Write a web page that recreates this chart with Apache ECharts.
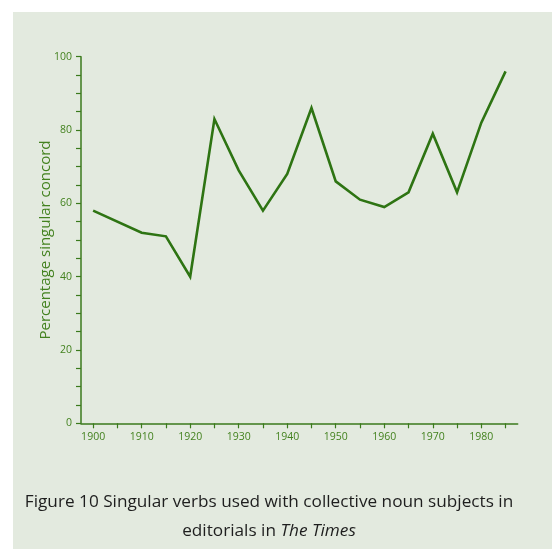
<!DOCTYPE html>
<html>
<head>
<meta charset="utf-8">
<script src="https://cdn.jsdelivr.net/npm/echarts@6/dist/echarts.min.js"></script>
<style>html,body{margin:0;padding:0;background:#fff}#c{width:552px;height:549px}</style>
</head>
<body>
<div id="c"></div>
<script>
var years = [1900, 1910, 1915, 1920, 1925, 1930, 1935, 1940, 1945, 1950, 1955, 1960, 1965, 1970, 1975, 1980, 1985];
var values = [58, 52, 51, 40, 83, 69, 58, 68, 86, 66, 61, 59, 63, 79, 63, 82, 96];
var xTickValues = [1900, 1905, 1910, 1915, 1920, 1925, 1930, 1935, 1940, 1945, 1950, 1955, 1960, 1965, 1970, 1975, 1980, 1985];
var xLabelValues = [1900, 1910, 1920, 1930, 1940, 1950, 1960, 1970, 1980];
var yTickValues = [0, 5, 10, 15, 20, 25, 30, 35, 40, 45, 50, 55, 60, 65, 70, 75, 80, 85, 90, 95, 100];
var yLabelValues = [0, 20, 40, 60, 80, 100];
var yAxisName = 'Percentage singular concord';

var green = '#3b7a1c';
var textGreen = '#43821f';
var font = 'Open Sans';
var chart = echarts.init(document.getElementById('c'), null, {renderer: 'canvas'});
chart.setOption({
  backgroundColor: '#ffffff',
  animation: false,
  graphic: [{
    type: 'rect', z: -10, silent: true,
    shape: {x: 13, y: 12, width: 539, height: 537},
    style: {fill: '#e3eadf'}
  }],
  title: {
    left: 264, top: 483, textAlign: 'center',
    text: '{a|Figure 10 Singular verbs used with collective noun subjects in}\n{a|editorials in }{i|The Times}',
    textStyle: {
      fontWeight: 'normal',
      rich: {
        a: {fontFamily: font, fontSize: 17.2, fontWeight: 'normal', color: '#1e1e1e', lineHeight: 29},
        i: {fontFamily: font, fontSize: 17.2, fontWeight: 'normal', fontStyle: 'italic', color: '#1e1e1e', lineHeight: 29}
      }
    }
  },
  grid: {left: 81, top: 56.7, right: 34.3, bottom: 125.7, containLabel: false},
  xAxis: {
    type: 'value', min: 1897.5, max: 1987.5,
    axisLine: {show: true, lineStyle: {color: green, width: 1.5}},
    axisTick: {show: true, customValues: xTickValues, length: 5, lineStyle: {color: green, width: 1.2}},
    axisLabel: {customValues: xLabelValues, color: textGreen, fontFamily: font, fontSize: 10.5, margin: 8,
      formatter: function (v) { return String(v); }},
    splitLine: {show: false}
  },
  yAxis: {
    type: 'value', min: 0, max: 100,
    name: yAxisName, nameLocation: 'middle', nameGap: 28, nameMoveOverlap: false,
    nameTextStyle: {color: textGreen, fontFamily: font, fontSize: 15},
    axisLine: {show: true, lineStyle: {color: green, width: 1.5}},
    axisTick: {show: true, customValues: yTickValues, length: 5, lineStyle: {color: green, width: 1.2}},
    axisLabel: {customValues: yLabelValues, color: textGreen, fontFamily: font, fontSize: 10.5, margin: 9},
    splitLine: {show: false}
  },
  series: [{
    type: 'line',
    data: years.map(function (y, i) { return [y, values[i]]; }),
    showSymbol: false, symbol: 'none',
    lineStyle: {color: '#2e7413', width: 2.6, join: 'miter'}
  }]
});
</script>
</body>
</html>
